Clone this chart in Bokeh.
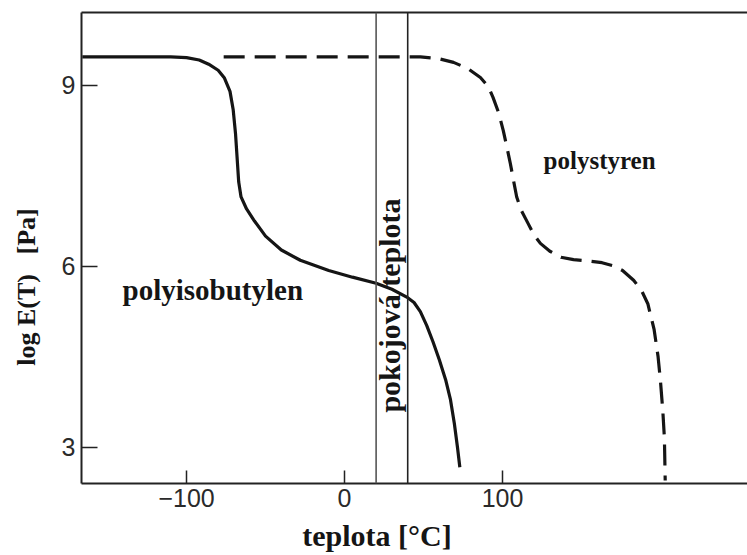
import math
from bokeh.plotting import figure
from bokeh.models import LinearAxis, FixedTicker, Range1d, Span, Label
from bokeh.embed import file_html
from bokeh.resources import INLINE

# ---- data ----
pib_T = [-166, -110, -100, -92, -86, -80, -76, -72.5, -70.5, -69, -68, -67, -65.5,
         -62, -57, -50, -40, -28, -10, 5, 20, 30, 40, 44, 48, 52, 56, 60, 64, 67,
         69.5, 71.5, 73]
pib_logE = [9.47, 9.47, 9.46, 9.42, 9.35, 9.25, 9.12, 8.9, 8.6, 8.2, 7.8, 7.4, 7.15,
            6.95, 6.75, 6.5, 6.27, 6.1, 5.93, 5.82, 5.72, 5.62, 5.48, 5.4, 5.25, 5.02,
            4.75, 4.45, 4.12, 3.8, 3.4, 3.0, 2.67]

ps_T = [-76.5, 48, 60, 69, 78, 86, 91, 94, 97.5, 100.5, 103, 105, 107, 109, 112, 116,
        120, 124, 130, 137, 145, 154, 163, 170, 176, 183, 188, 192, 196, 198.5, 200,
        201.5, 202.5, 203]
ps_logE = [9.47, 9.47, 9.44, 9.38, 9.28, 9.13, 8.98, 8.8, 8.55, 8.25, 7.95, 7.7, 7.42,
           7.15, 6.92, 6.72, 6.52, 6.38, 6.25, 6.15, 6.11, 6.09, 6.06, 6.01, 5.93, 5.77,
           5.6, 5.38, 4.95, 4.5, 4.1, 3.6, 3.15, 2.45]

room_T = [20, 40]
x_ticks = [-100, 0, 100]
y_ticks = [3, 6, 9]

NB = "\u00a0"
INK = "#151515"

p = figure(width=747, height=555, output_backend="svg", toolbar_location=None,
           x_range=Range1d(-166.5, 255.1), y_range=Range1d(2.4, 10.207),
           min_border_left=81, min_border_right=0, min_border_top=12,
           min_border_bottom=72,
           x_axis_label="teplota [°C]" + NB * 10,
           y_axis_label="log E(T)" + NB * 3 + "[Pa]" + NB * 12)
p.outline_line_color = None
p.grid.visible = False
p.background_fill_color = "white"
p.border_fill_color = "white"

for ax, ticks in ((p.xaxis, x_ticks), (p.yaxis, y_ticks)):
    ax.ticker = FixedTicker(ticks=ticks)
    ax.major_tick_out = 0
    ax.minor_tick_in = 0
    ax.minor_tick_out = 0
    ax.axis_line_width = 2
    ax.axis_line_color = "#222222"
    ax.major_tick_line_width = 1.5
    ax.major_tick_line_color = "#222222"
    ax.major_label_text_font = "Liberation Sans"
    ax.major_label_text_font_size = "25px"
    ax.major_label_text_color = "#2a2a2a"
    ax.axis_label_text_font = "Liberation Serif"
    ax.axis_label_text_font_style = "bold"
    ax.axis_label_text_color = INK

p.xaxis.axis_label_text_font_size = "30px"
p.yaxis.axis_label_text_font_size = "26px"
p.xaxis.major_tick_in = 13
p.yaxis.major_tick_in = 16
p.xaxis.major_label_standoff = 5
p.yaxis.major_label_standoff = 6
p.xaxis.axis_label_standoff = 9
p.yaxis.axis_label_standoff = 18

top_axis = LinearAxis(ticker=FixedTicker(ticks=[]), major_label_text_font_size="0px",
                      major_tick_in=0, major_tick_out=0, minor_tick_in=0,
                      minor_tick_out=0, axis_line_width=2, axis_line_color="#222222")
p.add_layout(top_axis, "above")

for t, c in zip(room_T, ["#555555", "#222222"]):
    p.add_layout(Span(location=t, dimension="height", line_color=c, line_width=1.6))

p.line(pib_T, pib_logE, line_color=INK, line_width=3.2)
p.line(ps_T, ps_logE, line_color=INK, line_width=3.2, line_dash="21 10")

common = dict(text_font="Liberation Serif", text_font_style="bold",
              text_color=INK, text_baseline="middle")
p.add_layout(Label(x=-140.5, y=5.6, text="polyisobutylen", text_align="left",
                   text_font_size="29px", **common))
p.add_layout(Label(x=126, y=7.75, text="polystyren", text_align="left",
                   text_font_size="25px", **common))
p.add_layout(Label(x=28.3, y=5.35, text="pokojová teplota", text_align="center",
                   angle=math.pi / 2, text_font_size="30px", **common))

open("out.html", "w").write(file_html(p, INLINE))
